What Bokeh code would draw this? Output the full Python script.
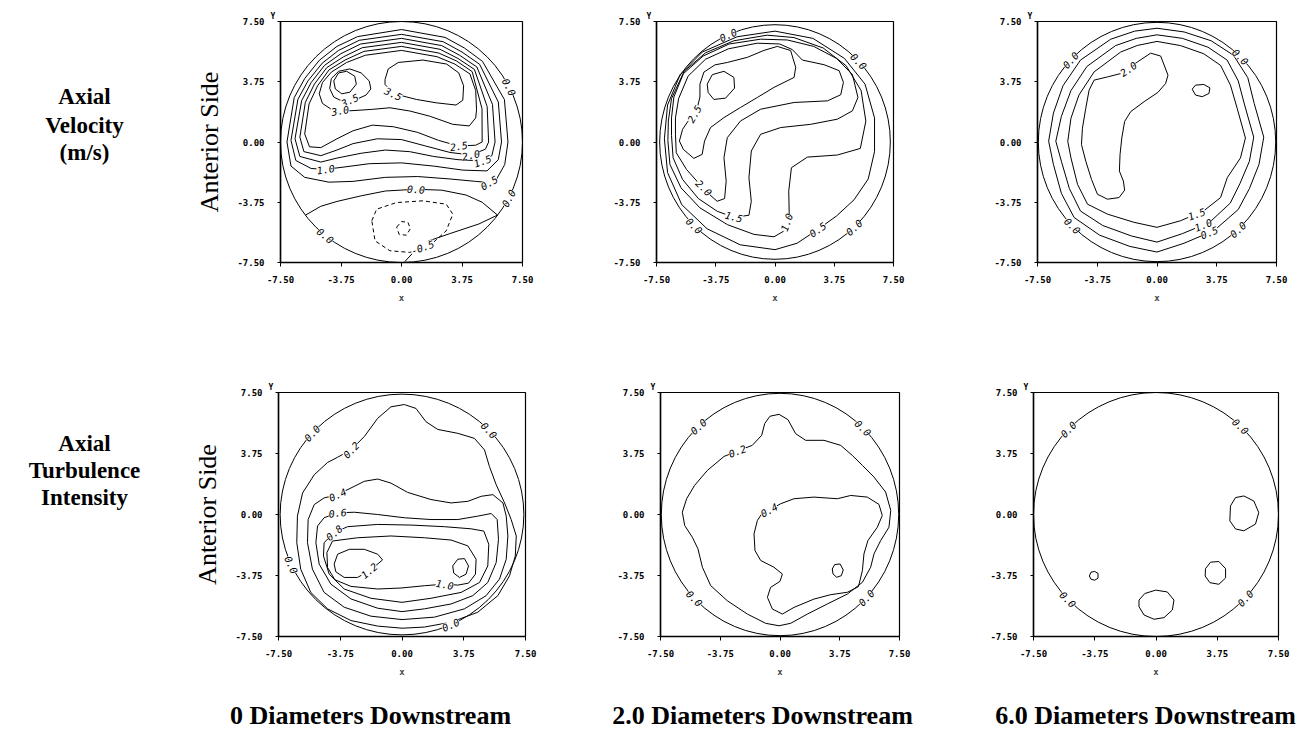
import numpy as np
from bokeh.plotting import figure
from bokeh.models import Range1d, FixedTicker, PrintfTickFormatter, Title, LabelSet, ColumnDataSource
from bokeh.layouts import row, column
from bokeh.embed import file_html
from bokeh.resources import INLINE
from bokeh.core.properties import value

# ---------------- texts / ticks ----------------
AXIS_TICKS = [-7.5, -3.75, 0.0, 3.75, 7.5]
ROW_TITLES = [["Axial", "Velocity", "(m/s)"], ["Axial", "Turbulence", "Intensity"]]
COL_TITLES = ["0 Diameters Downstream", "2.0 Diameters Downstream", "6.0 Diameters Downstream"]
SIDE_LABEL = "Anterior Side"

# ---------------- Axial velocity, 0 diameters ----------------
V0_WALL_R = 7.5
V0_40 = [(-4.2, 3.8), (-3.9, 4.3), (-3.4, 4.4), (-2.9, 4.1), (-2.8, 3.6), (-3.2, 3.1), (-3.7, 3.0), (-4.1, 3.3)]
V0_35A = [(-1.9, 3.3), (-2.0, 3.8), (-2.5, 4.3), (-3.2, 4.55), (-3.9, 4.4), (-4.35, 3.95), (-4.45, 3.33),
          (-4.2, 2.8), (-3.7, 2.55), (-2.8, 2.65), (-2.2, 2.92)]
V0_35B = [(-1.02, 3.89), (-0.82, 4.55), (-0.2, 4.95), (1.33, 5.1), (2.8, 4.85), (3.55, 4.3), (3.85, 3.5),
          (3.8, 2.6), (3.38, 2.3), (2.15, 2.44), (0.92, 2.65), (0.1, 2.86), (-0.72, 3.27), (-1.02, 3.58)]
V0_30 = [(-4.3, 2.0), (-3.38, 1.93), (-1.84, 2.03), (-0.72, 2.13), (0.51, 1.93), (1.74, 1.61), (3.18, 1.1),
         (4.2, 1.0), (4.6, 1.5), (4.65, 2.0), (4.6, 3.2), (4.24, 4.24), (3.3, 4.85), (2.2, 5.31), (0.0, 5.7),
         (-2.24, 5.4), (-3.4, 4.95), (-4.35, 4.35), (-4.9, 3.7), (-5.1, 3.0), (-4.9, 2.4)]
V0_25 = [(5.0, 0.0), (4.99, 2.07), (4.38, 4.38), (3.4, 5.05), (2.3, 5.54), (0.0, 5.95), (-2.33, 5.64),
         (-3.5, 5.1), (-4.49, 4.49), (-5.2, 3.5), (-5.73, 2.37), (-6.0, 0.5), (-5.7, -0.3), (-5.0, -0.35),
         (-4.0, 0.2), (-3.0, 0.7), (-1.8, 1.05), (-0.5, 0.95), (1.0, 0.6), (2.3, 0.1), (3.55, -0.25), (4.6, -0.2)]
V0_20 = [(5.4, 0.0), (5.31, 2.2), (4.52, 4.52), (3.5, 5.2), (2.39, 5.77), (0.0, 6.2), (-2.43, 5.87),
         (-3.6, 5.3), (-4.63, 4.63), (-5.4, 3.6), (-5.96, 2.47), (-6.3, 0.3), (-6.05, -0.6), (-5.0, -0.85),
         (-4.0, -0.5), (-3.0, -0.1), (-1.5, 0.2), (0.0, 0.15), (1.5, -0.25), (3.0, -0.65), (4.3, -0.81), (5.2, -0.45)]
V0_15 = [(5.8, 0.0), (5.64, 2.34), (4.67, 4.67), (3.6, 5.4), (2.49, 6.0), (0.0, 6.45), (-2.53, 6.1),
         (-3.75, 5.5), (-4.77, 4.77), (-5.6, 3.7), (-6.19, 2.57), (-6.6, 0.2), (-6.3, -0.9), (-5.0, -1.25),
         (-4.0, -1.0), (-2.5, -0.7), (-1.0, -0.5), (0.5, -0.6), (2.0, -0.9), (3.5, -1.1), (5.02, -1.18), (5.6, -0.85)]
V0_10 = [(6.2, 0.0), (6.0, 2.49), (4.84, 4.84), (3.75, 5.6), (2.59, 6.24), (0.0, 6.7), (-2.62, 6.33),
         (-3.9, 5.7), (-4.91, 4.91), (-5.8, 3.8), (-6.42, 2.66), (-6.85, 0.1), (-6.55, -1.15), (-5.6, -1.65),
         (-4.7, -1.7), (-3.5, -1.55), (-2.0, -1.35), (0.0, -1.3), (2.0, -1.5), (3.8, -1.75), (5.3, -1.8), (6.0, -1.1)]
V0_05 = [(6.6, 0.0), (6.38, 2.64), (5.02, 5.02), (3.9, 5.85), (2.7, 6.51), (0.0, 7.0), (-2.72, 6.56),
         (-4.0, 5.95), (-5.09, 5.09), (-6.0, 3.95), (-6.65, 2.76), (-7.1, 0.0), (-6.85, -1.5), (-6.0, -2.2),
         (-4.5, -2.5), (-3.0, -2.45), (-1.0, -2.2), (1.0, -2.15), (3.0, -2.3), (4.6, -2.45), (5.43, -2.53),
         (5.9, -2.3), (6.4, -1.4)]
V0_00_MID = [(-5.95, -4.55), (-5.0, -4.0), (-4.0, -3.7), (-2.5, -3.35), (-1.0, -3.05), (0.9, -2.94),
             (2.5, -3.0), (4.0, -3.3), (5.0, -3.75), (5.95, -4.55)]
V0_00_LOW = [(5.95, -4.55), (4.8, -5.1), (3.0, -5.7), (1.7, -6.15), (0.8, -6.8), (0.2, -7.45)]
V0_N05 = [(-1.84, -4.9), (-1.54, -4.18), (-0.31, -3.77), (1.33, -3.66), (2.77, -3.87), (3.18, -4.49),
          (2.77, -5.53), (1.74, -6.46), (0.51, -6.87), (-0.72, -6.77), (-1.64, -6.15)]
V0_N10 = [(-0.3, -5.3), (0.0, -4.95), (0.4, -5.0), (0.55, -5.4), (0.3, -5.8), (-0.15, -5.75)]
V0_LABELS = [("0.0", 6.67, 3.43, -63), ("0.0", 6.63, -3.5, 62), ("0.0", 0.9, -2.94, -3), ("0.0", -4.72, -5.83, -39),
             ("-0.5", 1.3, -6.55, 20), ("3.5", -3.2, 2.6, 25), ("3.0", -3.8, 1.96, 10), ("3.5", -0.5, 3.0, -25),
             ("2.5", 3.55, -0.25, 8), ("2.0", 4.3, -0.81, 12), ("1.5", 5.02, -1.18, 20), ("0.5", 5.43, -2.53, 30),
             ("1.0", -4.7, -1.7, 8)]

# ---------------- Axial velocity, 2.0 diameters ----------------
V2_WALL_R = 7.3
V2_30 = [(-4.29, 3.6), (-3.97, 4.19), (-3.23, 4.4), (-2.6, 4.02), (-2.56, 3.35), (-3.13, 2.73), (-3.87, 2.65), (-4.23, 3.08)]
V2_25 = [(-5.5, 1.3), (-5.0, 1.8), (-4.75, 2.8), (-4.75, 3.6), (-4.5, 4.35), (-3.8, 4.8), (-3.02, 4.95),
         (-1.75, 5.27), (-0.7, 5.7), (0.15, 5.95), (0.99, 5.69), (1.31, 4.65), (1.21, 4.02), (-0.06, 3.4),
         (-1.12, 2.77), (-2.18, 2.15), (-3.23, 1.52), (-4.08, 0.9), (-4.46, 0.06), (-4.61, -0.77),
         (-5.14, -1.02), (-5.8, -0.46), (-6.05, 0.06), (-5.85, 0.79)]
V2_20 = [(-6.3, 0.48), (-6.25, -0.67), (-5.6, -1.71), (-4.85, -2.54), (-4.19, -3.23), (-3.66, -3.69),
         (-3.19, -3.52), (-3.09, -2.44), (-3.23, -0.98), (-3.02, 0.27), (-2.18, 1.31), (-0.91, 2.04),
         (1.21, 2.46), (3.32, 2.56), (4.16, 2.94), (4.33, 3.71), (4.06, 4.44), (3.11, 4.81), (1.73, 5.1),
         (1.1, 5.75), (0.3, 6.1), (-1.12, 6.15), (-2.95, 5.8), (-4.4, 5.15), (-5.5, 4.1), (-6.1, 2.7), (-6.3, 1.5)]
V2_15 = [(-6.55, 0.4), (-6.45, -0.98), (-5.85, -2.33), (-4.85, -3.52), (-3.66, -4.31), (-2.6, -4.69),
         (-1.65, -4.56), (-1.5, -3.69), (-1.65, -2.23), (-1.5, -0.56), (-0.91, 0.48), (0.36, 0.9), (2.26, 1.1),
         (3.95, 1.42), (4.9, 1.94), (5.25, 2.77), (4.9, 4.2), (3.9, 5.2), (2.45, 5.95), (0.78, 6.35),
         (-0.91, 6.4), (-2.9, 6.1), (-4.55, 5.35), (-5.8, 4.25), (-6.4, 2.8), (-6.55, 1.5)]
V2_10 = [(-6.78, 0.1), (-6.65, -1.4), (-5.95, -2.85), (-4.75, -4.1), (-3.0, -5.15), (-1.33, -5.75),
         (-0.06, -5.9), (0.53, -5.56), (0.9, -4.52), (0.87, -3.06), (1.04, -1.6), (2.05, -0.94), (3.95, -0.81),
         (5.4, -0.4), (5.75, 1.3), (5.45, 3.2), (4.5, 4.75), (3.05, 5.85), (1.2, 6.5), (-0.5, 6.65),
         (-2.6, 6.3), (-4.4, 5.55), (-5.75, 4.4), (-6.55, 2.7), (-6.75, 1.3)]
V2_05 = [(0.0, 6.9), (2.4, 6.45), (4.4, 5.2), (5.7, 3.6), (6.3, 1.5), (6.3, -0.6), (5.9, -2.3), (5.0, -3.6),
         (3.9, -4.6), (2.7, -5.45), (1.4, -6.3), (0.0, -6.7), (-2.2, -6.4), (-4.3, -5.4), (-5.9, -3.9),
         (-6.8, -1.9), (-7.0, 0.2), (-6.8, 2.3), (-6.0, 4.2), (-4.6, 5.6), (-2.4, 6.55)]
V2_LABELS = [("0.0", -2.97, 6.67, 24), ("0.0", 5.3, 5.02, -46), ("0.0", -5.11, -5.21, -44), ("0.0", 5.0, -5.32, 43),
             ("0.5", 2.7, -5.45, 35), ("1.0", 0.73, -5.0, 70), ("1.5", -2.6, -4.65, -15), ("2.0", -4.5, -2.85, -45),
             ("2.5", -5.1, 1.75, 60)]

# ---------------- Axial velocity, 6.0 diameters ----------------
V6_WALL_R = 7.45
V6_20 = [(-3.95, 3.85), (-3.11, 4.05), (-2.28, 4.26), (-1.23, 4.98), (-0.4, 5.53), (0.23, 5.35), (0.69, 4.16),
         (0.54, 3.64), (0.06, 3.09), (-0.81, 2.51), (-1.65, 1.89), (-2.03, 1.28), (-2.21, 0.25), (-2.32, -0.78),
         (-2.36, -1.81), (-2.11, -2.43), (-2.03, -3.0), (-2.38, -3.46), (-3.11, -3.56), (-3.74, -3.25),
         (-4.11, -2.33), (-4.47, -1.19), (-4.74, -0.16), (-4.68, 0.86), (-4.47, 2.1), (-4.26, 3.23)]
V6_20B = [(2.21, 3.29), (2.42, 3.54), (2.94, 3.58), (3.32, 3.37), (3.26, 3.02), (2.84, 2.82), (2.42, 2.92)]
V6_15 = [(0.0, 6.26), (1.48, 6.0), (2.94, 5.49), (3.99, 4.77), (4.61, 3.54), (5.03, 2.1), (5.55, 0.25),
         (5.24, -0.99), (4.41, -2.22), (3.99, -3.46), (2.94, -4.28), (1.48, -4.9), (0.0, -5.31), (-1.44, -5.0),
         (-3.11, -4.49), (-4.36, -3.87), (-4.99, -2.63), (-5.4, -0.99), (-5.6, 0.04), (-5.4, 1.48),
         (-4.9, 2.92), (-3.95, 4.36), (-2.28, 5.6), (-1.23, 6.01)]
V6_10 = [(0.0, 6.67), (1.6, 6.45), (3.2, 5.9), (4.4, 5.1), (5.1, 3.8), (5.5, 2.3), (6.07, 0.3), (5.8, -1.2),
         (5.2, -2.6), (4.6, -3.8), (3.3, -5.0), (1.6, -5.7), (0.0, -6.23), (-1.6, -5.85), (-3.4, -5.2),
         (-4.8, -4.3), (-5.5, -2.9), (-6.0, -1.2), (-6.35, 0.05), (-6.0, 1.6), (-5.4, 3.2), (-4.4, 4.7),
         (-2.6, 6.0), (-1.3, 6.45)]
V6_05 = [(0.0, 7.08), (1.7, 6.85), (3.4, 6.3), (4.8, 5.4), (5.7, 4.0), (6.1, 2.4), (6.7, 0.3), (6.4, -1.4),
         (5.8, -2.9), (5.1, -4.2), (3.6, -5.5), (1.7, -6.3), (0.0, -6.85), (-1.7, -6.5), (-3.6, -5.8),
         (-5.2, -4.7), (-6.0, -3.2), (-6.5, -1.4), (-6.8, 0.05), (-6.5, 1.8), (-5.9, 3.5), (-4.8, 5.1),
         (-2.9, 6.4), (-1.4, 6.9)]
V6_LABELS = [("0.0", -5.43, 5.1, 47), ("0.0", 5.24, 5.3, -45), ("0.0", -5.31, -5.22, -45), ("0.0", 5.08, -5.45, 43),
             ("2.0", -1.8, 4.55, 35), ("1.5", 2.48, -4.48, 20), ("1.0", 2.9, -5.16, 22), ("0.5", 3.28, -5.63, 22)]

# ---------------- Turbulence intensity, 0 diameters ----------------
T0_WALL_R = 7.4
T0_02 = [(-3.91, 3.52), (-3.1, 3.97), (-2.29, 4.79), (-1.48, 5.91), (-0.67, 6.62), (0.14, 6.76), (0.85, 6.52),
         (1.46, 5.7), (2.17, 5.23), (3.39, 4.99), (4.4, 4.68), (5.01, 3.97), (5.31, 2.95), (5.72, 1.83),
         (6.23, 0.71), (6.63, -0.31), (6.94, -1.32), (6.88, -2.55), (6.53, -3.77), (5.82, -4.99), (4.6, -6.01),
         (2.98, -6.62), (1.36, -6.92), (0.0, -6.99), (-1.48, -6.86), (-3.1, -6.52), (-4.52, -5.8), (-5.54, -4.79),
         (-6.15, -3.36), (-6.39, -1.73), (-6.35, -0.1), (-6.04, 1.32), (-5.33, 2.44), (-4.52, 3.2)]
T0_04 = [(-3.91, 1.22), (-3.1, 1.63), (-2.29, 2.04), (-1.48, 2.18), (-0.67, 1.93), (0.34, 1.36), (1.76, 0.92),
         (2.98, 0.71), (4.0, 0.81), (4.81, 1.12), (5.52, 1.22), (6.13, 0.71), (6.33, -0.1), (6.43, -1.32),
         (6.33, -2.75), (5.92, -3.97), (5.11, -4.99), (3.79, -5.8), (1.97, -6.31), (0.0, -6.46), (-1.89, -6.25),
         (-3.51, -5.7), (-4.73, -4.79), (-5.44, -3.36), (-5.74, -1.73), (-5.7, -0.31), (-5.33, 0.61), (-4.73, 1.02)]
T0_06 = [(-3.91, 0.1), (-2.9, 0.14), (-1.48, 0.0), (0.14, -0.2), (1.76, -0.31), (3.39, -0.31), (4.6, -0.1),
         (5.42, 0.06), (5.78, -0.31), (5.86, -1.53), (5.72, -2.95), (5.21, -4.18), (4.3, -4.99), (2.98, -5.5),
         (1.36, -5.8), (0.0, -5.97), (-1.48, -5.76), (-3.1, -5.19), (-4.32, -4.28), (-5.03, -3.05),
         (-5.23, -1.73), (-5.13, -0.71), (-4.73, -0.2)]
T0_08 = [(-4.12, -1.12), (-3.31, -0.75), (-1.48, -0.61), (0.55, -0.65), (2.58, -0.75), (4.2, -0.88),
         (4.97, -1.02), (5.27, -1.83), (5.21, -3.16), (4.71, -4.18), (3.59, -4.79), (1.76, -5.15), (0.0, -5.4),
         (-1.89, -5.15), (-3.51, -4.58), (-4.42, -3.67), (-4.77, -2.55), (-4.73, -1.73)]
T0_10 = [(-4.22, -1.63), (-2.7, -1.43), (-0.67, -1.32), (1.36, -1.43), (2.98, -1.57), (4.0, -1.93),
         (4.5, -2.75), (4.46, -3.67), (4.04, -4.22), (3.39, -4.34), (2.58, -4.28), (1.36, -4.38), (-0.06, -4.52),
         (-1.48, -4.58), (-3.1, -4.42), (-4.08, -4.01), (-4.52, -3.26), (-4.56, -2.34)]
T0_12A = [(-4.12, -3.05), (-3.91, -2.44), (-3.2, -2.14), (-2.29, -2.14), (-1.48, -2.44), (-1.18, -2.79),
          (-1.6, -3.15), (-2.09, -3.52), (-2.7, -3.87), (-3.51, -3.87), (-4.02, -3.52)]
T0_12B = [(3.08, -3.16), (3.39, -2.75), (3.79, -2.71), (4.04, -3.16), (3.89, -3.67), (3.49, -3.87), (3.14, -3.6)]
T0_LABELS = [("0.0", -5.46, 5.0, 47), ("0.0", 5.29, 5.18, -46), ("0.0", -6.72, -3.09, -65), ("0.0", 2.96, -6.78, 24),
             ("0.2", -3.1, 3.97, 45), ("0.4", -3.91, 1.22, 25), ("0.6", -3.91, 0.1, 5), ("0.8", -4.12, -1.12, 40),
             ("1.2", -2.0, -3.45, 40), ("1.0", 2.6, -4.3, -10)]

# ---------------- Turbulence intensity, 2.0 diameters ----------------
T2_WALL_R = 7.45
T2_02 = [(-3.51, 3.57), (-2.68, 3.9), (-1.74, 4.25), (-1.15, 4.87), (-0.96, 5.59), (-0.63, 6.04), (-0.06, 6.16),
         (0.5, 5.83), (0.98, 4.97), (1.61, 4.56), (2.76, 4.56), (3.81, 4.25), (4.54, 3.63), (5.17, 3.02),
         (5.9, 2.3), (6.63, 1.38), (6.95, 0.25), (6.84, -0.78), (6.32, -1.6), (5.9, -2.42), (5.69, -3.24),
         (5.17, -4.17), (4.23, -4.89), (2.97, -5.5), (1.72, -6.12), (0.67, -6.69), (-0.06, -6.84), (-0.9, -6.69),
         (-2.05, -6.12), (-3.31, -5.3), (-4.35, -4.37), (-4.87, -3.24), (-5.15, -2.11), (-5.5, -1.4),
         (-5.98, -0.68), (-6.13, 0.14), (-5.86, 0.97), (-5.36, 1.79), (-4.56, 2.71)]
T2_04 = [(0.04, 0.66), (0.88, 0.97), (2.13, 1.07), (3.6, 0.97), (4.44, 1.17), (5.48, 1.07), (6.21, 0.62),
         (6.42, -0.06), (6.11, -0.78), (5.52, -1.6), (5.27, -2.42), (5.17, -3.45), (4.92, -4.44), (4.23, -4.78),
         (3.18, -4.93), (2.13, -5.2), (0.88, -5.71), (0.15, -6.12), (-0.48, -5.81), (-0.79, -5.09),
         (-0.59, -4.48), (0.0, -4.11), (0.15, -3.66), (-0.38, -3.24), (-1.21, -2.83), (-1.57, -2.22),
         (-1.63, -1.19), (-1.42, -0.37), (-1.17, 0.0)]
T2_04B = [(3.28, -3.35), (3.43, -3.08), (3.77, -3.04), (3.97, -3.41), (3.85, -3.76), (3.56, -3.86), (3.33, -3.66)]
T2_LABELS = [("0.0", -5.12, 5.41, 43), ("0.0", 5.21, 5.32, -44), ("0.0", -5.37, -5.16, -46), ("0.0", 5.41, -5.12, 47),
             ("0.2", -2.68, 3.9, 20), ("0.4", -0.69, 0.28, 28)]

# ---------------- Turbulence intensity, 6.0 diameters ----------------
T6_WALL_R = 7.5
T6_A = [(4.56, 0.53), (4.87, 1.04), (5.38, 1.14), (5.99, 0.83), (6.29, 0.12), (6.09, -0.59), (5.38, -1.0),
        (4.87, -0.89), (4.52, -0.39)]
T6_B = [(3.03, -3.33), (3.34, -2.93), (3.85, -2.89), (4.26, -3.33), (4.26, -3.9), (3.85, -4.29), (3.3, -4.19), (3.01, -3.78)]
T6_C = [(-4.08, -3.78), (-3.98, -3.55), (-3.76, -3.5), (-3.55, -3.62), (-3.55, -3.92), (-3.76, -4.04), (-3.98, -3.98)]
T6_D = [(-1.04, -5.26), (-0.69, -4.86), (-0.02, -4.65), (0.69, -4.76), (1.1, -5.26), (1.0, -5.87), (0.49, -6.34),
        (-0.12, -6.44), (-0.73, -6.18), (-1.04, -5.67)]
T6_LABELS = [("0.0", -5.37, 5.24, 46), ("0.0", 5.18, 5.42, -44), ("0.0", -5.39, -5.22, -46), ("0.0", 5.46, -5.14, 47)]

# ---------------- layout (pixel sizes / borders) ----------------
LEFT_W = 185
ROW1_H, ROW2_H, STRIP_H = 330, 360, 41
ROW1_BT, ROW1_BB = 21, 68          # frame 21 .. 262 on the page
ROW2_BT, ROW2_BB = 62, 54          # frame 392 .. 636 on the page


def closed(pts):
    return [p[0] for p in pts] + [pts[0][0]], [p[1] for p in pts] + [pts[0][1]]


def opened(pts):
    return [p[0] for p in pts], [p[1] for p in pts]


def make_panel(w, h, bl, br, bt, bb, wall_r, curves, labels, side=False):
    p = figure(width=w, height=h, x_range=Range1d(-7.5, 7.5), y_range=Range1d(-7.5, 7.5),
               toolbar_location=None, output_backend="svg",
               min_border_left=bl, min_border_right=br, min_border_top=bt, min_border_bottom=bb,
               background_fill_color="white", border_fill_color="white")
    p.outline_line_color = "black"
    p.outline_line_width = 1.2
    p.xgrid.grid_line_color = None
    p.ygrid.grid_line_color = None
    for ax in (p.xaxis[0], p.yaxis[0]):
        ax.ticker = FixedTicker(ticks=AXIS_TICKS)
        ax.formatter = PrintfTickFormatter(format="%.2f")
        ax.major_label_text_font = "DejaVu Sans Mono"
        ax.major_label_text_font_style = "bold"
        ax.major_label_text_font_size = "9px"
        ax.major_label_text_color = "black"
        ax.axis_line_width = 1.5
        ax.axis_line_color = "black"
        ax.major_tick_line_color = "black"
        ax.major_tick_in = 0
        ax.minor_tick_in = 0
        ax.minor_tick_out = 0
    p.xaxis.major_tick_out = 4
    p.xaxis.major_label_standoff = 9
    p.yaxis.major_tick_out = 3
    p.yaxis.major_label_standoff = 13
    p.xaxis.axis_label = "x"
    p.xaxis.axis_label_standoff = 7
    p.xaxis.axis_label_text_font = "DejaVu Sans Mono"
    p.xaxis.axis_label_text_font_style = "bold"
    p.xaxis.axis_label_text_font_size = "9px"
    if side:
        p.yaxis.axis_label = SIDE_LABEL
        p.yaxis.axis_label_standoff = 10
        p.yaxis.axis_label_text_font = "Liberation Serif"
        p.yaxis.axis_label_text_font_style = "normal"
        p.yaxis.axis_label_text_font_size = "26px"
        p.yaxis.axis_label_text_color = "black"
    p.add_layout(Title(text="Y", align="left", offset=-10, standoff=1, text_font="DejaVu Sans Mono",
                       text_font_style="bold", text_font_size="8px", text_color="black"), "above")
    p.ellipse(x=[0], y=[0], width=[2 * wall_r], height=[2 * wall_r], fill_color=None,
              line_color="black", line_width=1)
    for pts, is_closed, dashed in curves:
        xs, ys = closed(pts) if is_closed else opened(pts)
        p.line(xs, ys, line_color="black", line_width=1, line_dash="4 3" if dashed else "solid")
    src = ColumnDataSource(dict(x=[l[1] for l in labels], y=[l[2] for l in labels],
                                text=[l[0] for l in labels], angle=[np.radians(l[3]) for l in labels]))
    p.add_layout(LabelSet(x="x", y="y", text="text", angle="angle", source=src,
                          text_font=value("DejaVu Sans Mono"), text_font_size=value("10px"),
                          text_font_style=value("italic"),
                          text_align="center", text_baseline="middle", text_color="black",
                          background_fill_color="white"))
    return p


def text_fig(w, h, bt, bb, y_bottom, y_top, xs, ys, texts, size):
    f = figure(width=w, height=h, x_range=Range1d(0, w), y_range=Range1d(y_bottom, y_top),
               toolbar_location=None, output_backend="svg", x_axis_location=None, y_axis_location=None,
               min_border_left=0, min_border_right=0, min_border_top=bt, min_border_bottom=bb,
               outline_line_color=None)
    f.grid.visible = False
    f.text(x=xs, y=ys, text=texts, text_font=value("Liberation Serif"), text_font_size=value(size),
           text_font_style=value("bold"), text_align="center", text_baseline="middle", text_color="black")
    return f


p1 = make_panel(415, ROW1_H, 95, 78, ROW1_BT, ROW1_BB, V0_WALL_R,
                [(V0_40, True, False), (V0_35A, True, False), (V0_35B, True, False), (V0_30, True, False),
                 (V0_25, True, False), (V0_20, True, False), (V0_15, True, False), (V0_10, True, False),
                 (V0_05, True, False), (V0_00_MID, False, False), (V0_00_LOW, False, False),
                 (V0_N05, True, True), (V0_N10, True, True)], V0_LABELS, side=True)
p2 = make_panel(380, ROW1_H, 56, 87, ROW1_BT, ROW1_BB, V2_WALL_R,
                [(V2_30, True, False), (V2_25, True, False), (V2_20, True, False), (V2_15, True, False),
                 (V2_10, True, False), (V2_05, True, False)], V2_LABELS)
p3 = make_panel(320, ROW1_H, 57, 24, ROW1_BT, ROW1_BB, V6_WALL_R,
                [(V6_20, True, False), (V6_20B, True, False), (V6_15, True, False), (V6_10, True, False),
                 (V6_05, True, False)], V6_LABELS)
p4 = make_panel(415, ROW2_H, 93, 75, ROW2_BT, ROW2_BB, T0_WALL_R,
                [(T0_02, True, False), (T0_04, True, False), (T0_06, True, False), (T0_08, True, False),
                 (T0_10, True, False), (T0_12A, True, False), (T0_12B, True, False)], T0_LABELS, side=True)
p5 = make_panel(380, ROW2_H, 60, 81, ROW2_BT, ROW2_BB, T2_WALL_R,
                [(T2_02, True, False), (T2_04, True, False), (T2_04B, True, False)], T2_LABELS)
p6 = make_panel(320, ROW2_H, 53, 22, ROW2_BT, ROW2_BB, T6_WALL_R,
                [(T6_A, True, False), (T6_B, True, False), (T6_C, True, False), (T6_D, True, False)], T6_LABELS)

# row-title figures use page-pixel coordinates on their (aligned) frames
lab1 = text_fig(LEFT_W, ROW1_H, ROW1_BT, ROW1_BB, ROW1_H - ROW1_BB, ROW1_BT,
                [84, 84, 84], [96, 125, 152], ROW_TITLES[0], "23px")
lab2 = text_fig(LEFT_W, ROW2_H, ROW2_BT, ROW2_BB, ROW1_H + ROW2_H - ROW2_BB, ROW1_H + ROW2_BT,
                [84, 84, 84], [443, 470, 497], ROW_TITLES[1], "23px")
strip = text_fig(1300, STRIP_H, 0, 0, STRIP_H, 0, [370, 762, 1145], [25, 25, 25], COL_TITLES, "26px")

layout = column(row(lab1, p1, p2, p3), row(lab2, p4, p5, p6), strip)
open("out.html", "w").write(file_html(layout, INLINE))
